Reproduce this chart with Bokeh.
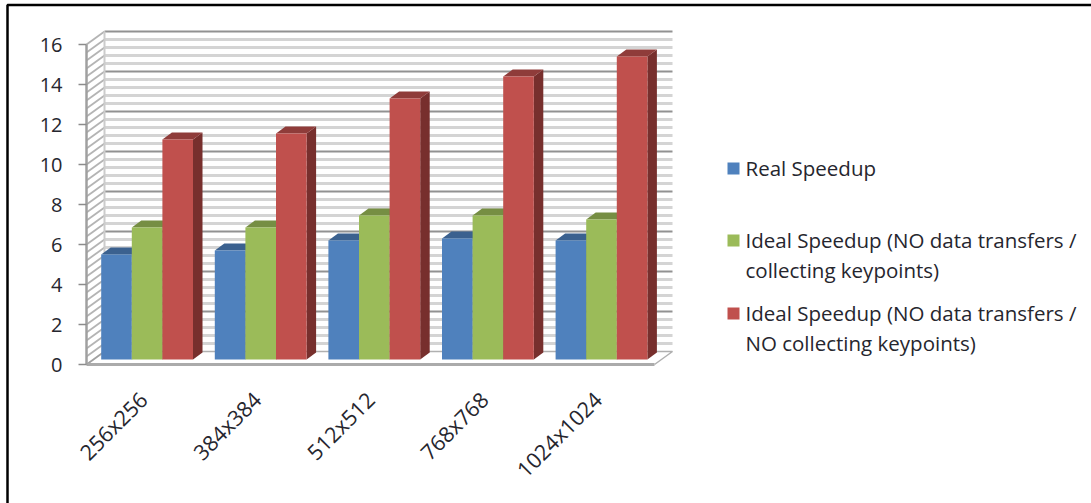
import math

from bokeh.core.properties import value
from bokeh.embed import file_html
from bokeh.models import FixedTicker, LinearAxis, Range1d
from bokeh.plotting import figure
from bokeh.resources import INLINE

categories = ["256x256", "384x384", "512x512", "768x768", "1024x1024"]
real_speedup = [5.25, 5.45, 5.95, 6.05, 5.95]
ideal_collecting = [6.6, 6.6, 7.2, 7.2, 7.0]
ideal_no_collecting = [11.0, 11.3, 13.05, 14.15, 15.15]
y_ticks = [0, 2, 4, 6, 8, 10, 12, 14, 16]
legend_labels = [
    "Real Speedup",
    "Ideal Speedup (NO data  transfers /\ncollecting keypoints)",
    "Ideal Speedup (NO data  transfers /\nNO collecting keypoints)",
]

FONT = "Open Sans"
TEXT = "#26262e"
FRONT = ["#4F81BD", "#9BBB59", "#C0504D"]
TOP = ["#3B618F", "#768E43", "#8F3C3A"]
SIDE = ["#345679", "#657A3A", "#772F2D"]

# Page geometry: the value axis origin and the scale of the front plane.
W, H = 1091, 503
X0_PX, Y0_PX = 86, 364
PX_PER_CAT, PX_PER_UNIT = 113.6, 20.0
# Depth of the chart box and of the bars, in axis units.
WALL_DX, WALL_DY = 18 / PX_PER_CAT, 13 / PX_PER_UNIT
BAR_DX0, BAR_DY0 = 14.7 / PX_PER_CAT, 5 / PX_PER_UNIT
BAR_DX, BAR_DY = 9.5 / PX_PER_CAT, 7 / PX_PER_UNIT
BAR_W = 30.6 / PX_PER_CAT


def sx(px):
    return (px - X0_PX) / PX_PER_CAT


def sy(py):
    return (Y0_PX - py) / PX_PER_UNIT


p = figure(
    width=W,
    height=H,
    output_backend="svg",
    toolbar_location=None,
    x_range=Range1d(sx(0), sx(W)),
    y_range=Range1d(sy(H), sy(0)),
    x_axis_type=None,
    y_axis_type=None,
    min_border=0,
    outline_line_color=None,
    background_fill_color="white",
    border_fill_color="white",
)
p.xgrid.visible = False
p.ygrid.visible = False

n = len(categories)
y_max = y_ticks[-1]

# Outer picture frame, top and left edges.
p.line([sx(7), sx(7), sx(W)], [sy(H), sy(4.5), sy(4.5)], line_color="black", line_width=2.5)

# Back wall gridlines, minor ones first.
levels = [k * 0.4 for k in range(41)]
for v in levels:
    if abs(v / 2 - round(v / 2)) < 1e-6:
        continue
    p.line([WALL_DX, n + WALL_DX], [v + WALL_DY, v + WALL_DY], line_color="#d4d4d4", line_width=3)
for v in y_ticks[1:]:
    p.line([WALL_DX, n + WALL_DX], [v + WALL_DY, v + WALL_DY], line_color="#929292", line_width=2)

# Side wall hatching running from the axis back to the wall.
for v in levels:
    p.line([0, WALL_DX], [v, v + WALL_DY], line_color="#b4b4b4", line_width=1.8)
p.line([WALL_DX, WALL_DX], [WALL_DY, y_max + WALL_DY], line_color="#cccccc", line_width=2)

# Floor outline.
p.line([n, n + WALL_DX, WALL_DX], [0, WALL_DY, WALL_DY], line_color="#b0b0b0", line_width=1.5)
p.line([0, WALL_DX], [0, WALL_DY], line_color="#a0a0a0", line_width=1.5)
p.line([0, n], [0, 0], line_color="#ababab", line_width=3)

# Bars, drawn group by group so nearer faces cover hidden ones.
series = [real_speedup, ideal_collecting, ideal_no_collecting]
for i in range(n):
    for j, values in enumerate(series):
        v = values[i]
        left = i + BAR_DX0 + j * BAR_W
        right = left + BAR_W
        base = BAR_DY0
        top = v + BAR_DY0
        p.patch(
            [right, right + BAR_DX, right + BAR_DX, right],
            [base, base + BAR_DY, top + BAR_DY, top],
            fill_color=SIDE[j],
            line_color=None,
        )
        p.patch(
            [left, right, right + BAR_DX, left + BAR_DX],
            [top, top, top + BAR_DY, top + BAR_DY],
            fill_color=TOP[j],
            line_color=None,
        )
        p.quad(left=left, right=right, bottom=base, top=top, fill_color=FRONT[j], line_color=None)

# Value axis sits on the front plane at x = 0.
y_axis = LinearAxis(
    fixed_location=0,
    bounds=(0, y_max),
    ticker=FixedTicker(ticks=y_ticks),
    axis_line_color="#a0a0a0",
    axis_line_width=2.5,
    major_tick_line_color="#8c8c8c",
    major_tick_line_width=1.5,
    major_tick_out=8,
    major_tick_in=0,
    minor_tick_line_color=None,
    major_label_text_font=FONT,
    major_label_text_font_size="20px",
    major_label_text_color=TEXT,
    major_label_standoff=16,
)
p.add_layout(y_axis, "left")

# Category axis with slanted labels.
x_axis = LinearAxis(
    fixed_location=0,
    ticker=FixedTicker(ticks=[i + 0.5 for i in range(n)]),
    major_label_overrides={i + 0.5: c for i, c in enumerate(categories)},
    axis_line_color=None,
    major_tick_line_color=None,
    minor_tick_line_color=None,
    major_label_orientation=math.pi / 4,
    major_label_text_font=FONT,
    major_label_text_font_size="21.5px",
    major_label_text_color=TEXT,
    major_label_standoff=25,
)
p.add_layout(x_axis, "below")

# Legend entries.
legend_y = [168, 240, 313]
for label, colour, py in zip(legend_labels, FRONT, legend_y):
    p.scatter([sx(733)], [sy(py)], marker="square", size=12, fill_color=colour, line_color=None)
    p.text(
        [sx(745)],
        [sy(py - 15)],
        text=[label],
        text_font=value(FONT),
        text_font_size="20.5px",
        text_color=TEXT,
        text_align="left",
        text_baseline="top",
        text_line_height=1.08,
    )

open("out.html", "w").write(file_html(p, INLINE))
